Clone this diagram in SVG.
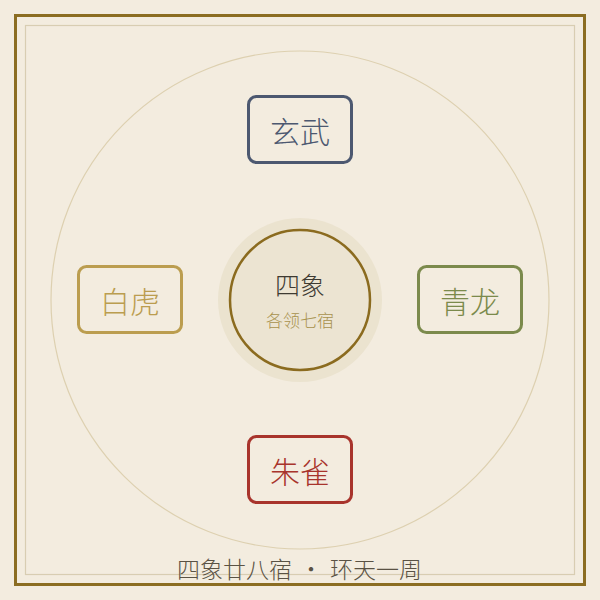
<svg xmlns="http://www.w3.org/2000/svg" width="600" height="600" viewBox="0 0 600 600">
<style>
.box{fill:#f3ecdf;stroke-width:3}
.lbl{font-family:"Noto Sans CJK SC","Noto Sans",sans-serif;font-size:30px;text-anchor:middle;dominant-baseline:central;font-weight:300}
</style>
<rect x="0" y="0" width="600" height="600" fill="#f3ecdf"/>
<rect x="15.5" y="15.5" width="569" height="569" fill="none" stroke="#8b6d22" stroke-width="3"/>
<rect x="25.5" y="25.5" width="549" height="549" fill="none" stroke="#d8cdb2" stroke-width="1.2"/>
<g id="connectors">
<circle cx="300" cy="300" r="249" fill="none" stroke="#ddd0b0" stroke-width="1.2"/>
</g>
<g id="center">
<circle cx="300" cy="300" r="82" fill="#ebe3cf"/>
<circle cx="300" cy="300" r="70" fill="#ece4d2" stroke="#8b6b1f" stroke-width="2.5"/>
<text x="300" y="284" font-family="'Noto Sans CJK SC',sans-serif" font-size="25" font-weight="300" text-anchor="middle" dominant-baseline="central" fill="#3e3a32">四象</text>
<text x="300" y="319" font-family="'Noto Sans CJK SC',sans-serif" font-size="17" font-weight="300" text-anchor="middle" dominant-baseline="central" fill="#a8924e">各领七宿</text>
</g>
<g id="xuanwu">
<rect class="box" x="248.5" y="96.5" width="103" height="66" rx="8" stroke="#4c5870"/>
<text class="lbl" x="300" y="130" fill="#4c5870">玄武</text>
</g>
<g id="baihu">
<rect class="box" x="78.5" y="266.5" width="103" height="66" rx="8" stroke="#bb9d4f"/>
<text class="lbl" x="130" y="300" fill="#bb9d4f">白虎</text>
</g>
<g id="qinglong">
<rect class="box" x="418.5" y="266.5" width="103" height="66" rx="8" stroke="#7b8a4c"/>
<text class="lbl" x="470" y="300" fill="#7b8a4c">青龙</text>
</g>
<g id="zhuque">
<rect class="box" x="248.5" y="436.5" width="103" height="66" rx="8" stroke="#a8342c"/>
<text class="lbl" x="300" y="470" fill="#a8342c">朱雀</text>
</g>
<text y="568" font-family="'Noto Sans CJK SC',sans-serif" font-size="23" font-weight="300" dominant-baseline="central" fill="#5a5244"><tspan x="292" text-anchor="end">四象廿八宿</tspan><tspan x="311" text-anchor="middle">·</tspan><tspan x="330" text-anchor="start">环天一周</tspan></text>
</svg>
